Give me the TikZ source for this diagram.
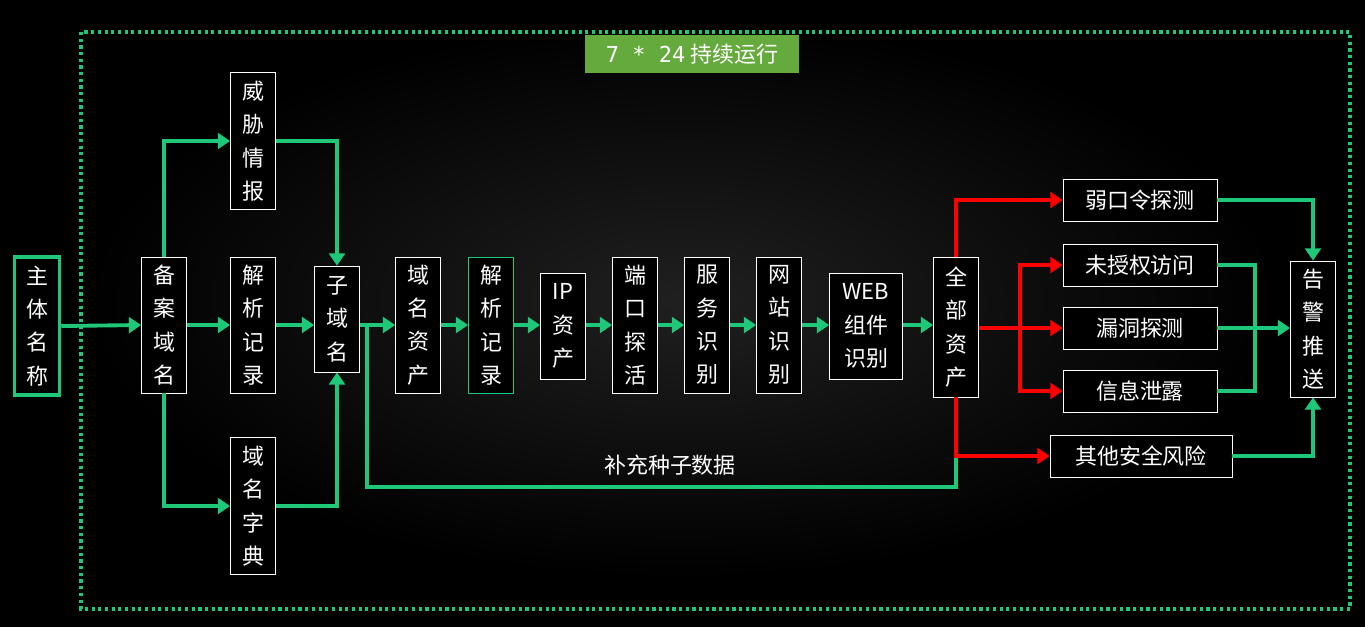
\documentclass[tikz,border=0pt]{standalone}
\usepackage{fontspec}
\setmainfont{Noto Sans CJK SC}
\newfontfamily\monofont{DejaVu Sans Mono}
\usepackage{tikz}
\usetikzlibrary{arrows.meta}
\definecolor{lgreen}{RGB}{30,200,120}
\definecolor{tgreen}{RGB}{100,170,60}
\tikzset{
  box/.style={draw=white,fill=black,text=white,inner sep=0pt,align=center,
    font=\fontsize{12.5}{19}\selectfont,minimum width=0.9cm},
  hbox/.style={box,minimum height=0.84cm},
  garrow/.style={draw=lgreen,line width=2.2pt,-{Triangle[length=7pt,width=9pt]}},
  rarrow/.style={draw=red,line width=2.2pt,-{Triangle[length=7pt,width=9pt]}}
}
\begin{document}
\begin{tikzpicture}[x=0.02cm,y=-0.02cm]
    % background
    \fill[black] (0,0) rectangle (1365,627);
    \shade[inner color=black!75!white,outer color=black,opacity=0.5] (683,300) ellipse (600 and 280);
    \useasboundingbox (0,0) rectangle (1365,627);
    \draw[lgreen,line width=1.8pt,dotted] (81,32) rectangle (1350,609);
    \node[fill=tgreen,text=white,minimum width=4.3cm,minimum height=0.76cm,
      font=\fontsize{12.5}{15}\selectfont] (title) at (692,54) {{\monofont 7 * 24} 持续运行};

    % left part
    \node[box,draw=lgreen,line width=2pt,minimum height=2.76cm] (zt) at (37,326) {主\\体\\名\\称};
    \node[box,minimum height=2.72cm] (ba) at (164,325) {备\\案\\域\\名};
    \node[box,minimum height=2.74cm] (wx) at (253,141) {威\\胁\\情\\报};
    \node[box,minimum height=2.72cm] (jx) at (253,325) {解\\析\\记\\录};
    \node[box,minimum height=2.74cm] (zd) at (253,506) {域\\名\\字\\典};
    \node[box,minimum height=2.12cm] (zy) at (337,319) {子\\域\\名};

    % main chain
    \node[box,minimum height=2.72cm] (ym) at (418,325) {域\\名\\资\\产};
    \node[box,draw=lgreen,minimum height=2.72cm] (jx2) at (491,325) {解\\析\\记\\录};
    \node[box,minimum height=2.12cm] (ip) at (563,326) {IP\\资\\产};
    \node[box,minimum height=2.72cm] (dk) at (635,325) {端\\口\\探\\活};
    \node[box,minimum height=2.72cm] (fw) at (707,325) {服\\务\\识\\别};
    \node[box,minimum height=2.72cm] (wz) at (779,325) {网\\站\\识\\别};
    \node[box,minimum width=1.46cm,minimum height=2.12cm] (web) at (866,326) {WEB\\组件\\识别};
    \node[box,minimum height=2.8cm] (qb) at (956,327) {全\\部\\资\\产};

    % checks
    \node[hbox,minimum width=3.08cm] (rk) at (1140,200) {弱口令探测};
    \node[hbox,minimum width=3.08cm] (ws) at (1140,265) {未授权访问};
    \node[hbox,minimum width=3.08cm] (ld) at (1140,328) {漏洞探测};
    \node[hbox,minimum width=3.08cm] (xx) at (1140,391) {信息泄露};
    \node[hbox,minimum width=3.64cm] (qt) at (1141,456) {其他安全风险};
    \node[box,minimum height=2.72cm] (gj) at (1313,329) {告\\警\\推\\送};

    % green connectors
    \draw[garrow] (zt.east) -- (ba.west);
    \draw[garrow] (ba.north) |- (wx.west);
    \draw[garrow] (ba.east) -- (jx.west);
    \draw[garrow] (ba.south) |- (zd.west);
    \draw[garrow] (wx.east) -| (zy.north);
    \draw[garrow] (jx.east) -- (jx.east -| zy.west);
    \draw[garrow] (zd.east) -| (zy.south);
    \draw[garrow] (zy.east |- ym.west) -- (ym.west);
    \foreach \a/\b in {ym/jx2,jx2/ip,ip/dk,dk/fw,fw/wz,wz/web,web/qb}
      \draw[garrow] (\a.east |- ym.west) -- (\b.west |- ym.west);
    \coordinate (fb) at (367,487);
    \draw[lgreen,line width=2.2pt] (qb.south) -- (qb.south |- fb) -- (fb) -- (fb |- ym.west);
    \node[text=white,font=\fontsize{12.5}{15}\selectfont] (bc) at (670,465) {补充种子数据};

    % red connectors
    \coordinate (rs) at (1020,328);
    \draw[rarrow] (qb.north) |- (rk.west);
    \draw[red,line width=2.2pt] (qb.east |- rs) -- (rs);
    \draw[rarrow] (rs) -- (ld.west);
    \draw[rarrow] (rs) |- (ws.west);
    \draw[rarrow] (rs) |- (xx.west);
    \draw[rarrow] (qb.south) |- (qt.west);

    % to alarm
    \coordinate (gs) at (1255,328);
    \draw[garrow] (rk.east) -| (gj.north);
    \draw[lgreen,line width=2.2pt] (ws.east) -| (gs) |- (xx.east);
    \draw[garrow] (ld.east) -- (gj.west |- ld.east);
    \draw[garrow] (qt.east) -| (gj.south);
\end{tikzpicture}
\end{document}
